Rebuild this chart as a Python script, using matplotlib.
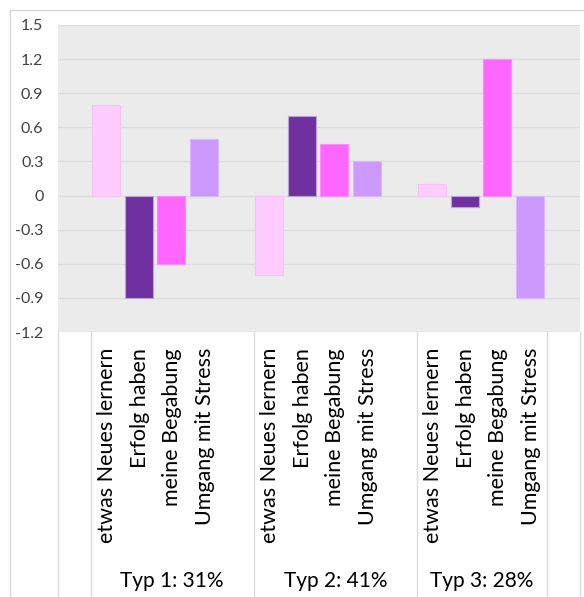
import matplotlib
matplotlib.use("Agg")
import matplotlib.pyplot as plt
from matplotlib.lines import Line2D

groups = ["Typ 1: 31%", "Typ 2: 41%", "Typ 3: 28%"]
items = ["etwas Neues lernern", "Erfolg haben", "meine Begabung", "Umgang mit Stress"]
colors = ["#FFCCFF", "#7030A0", "#FF66FF", "#CC99FF"]
edges = ["#F5C2F5", "#B9A2D4", "#FF8CFF", "#D9B8FF"]
typ1 = [0.8, -0.9, -0.6, 0.5]
typ2 = [-0.7, 0.7, 0.45, 0.3]
typ3 = [0.1, -0.1, 1.2, -0.9]
values = [typ1, typ2, typ3]
yticks = [-1.2, -0.9, -0.6, -0.3, 0, 0.3, 0.6, 0.9, 1.2, 1.5]

# slot layout: empty slot 0, groups start at slots 1, 6, 11; trailing empty slot 15
group_start = [1, 6, 11]
group_span = [(0.5, 5.5), (5.5, 10.5), (10.5, 14.5)]
separators = [-0.5, 0.5, 5.5, 10.5, 14.5, 15.5]

W, H = 584, 597
fig = plt.figure(figsize=(W / 100, H / 100), dpi=100)
fig.patch.set_facecolor("white")
ax = fig.add_axes([58 / W, 1 - 332 / H, (580 - 58) / W, (332 - 25) / H])
ax.set_facecolor("#EBEBEB")
ax.set_xlim(-0.5, 15.5)
ax.set_ylim(-1.2, 1.5)

for g, vals in enumerate(values):
    for k, v in enumerate(vals):
        ax.bar(group_start[g] + k - 0.03, v, width=0.86, color=colors[k],
               edgecolor=edges[k], linewidth=0.8, zorder=3)

ax.set_yticks(yticks)
ax.set_yticklabels([f"{t:g}" for t in yticks], fontsize=11.5, color="#404040",
                   family="Lato")
ax.tick_params(axis="y", length=0, pad=10.5)
ax.tick_params(axis="x", length=0, labelbottom=False)
ax.grid(axis="y", color="#DCDCDC", linewidth=1.0, zorder=0)
for s in ax.spines.values():
    s.set_visible(False)

xtr = ax.get_xaxis_transform()
ybot = -(597 - 332) / (332 - 25)
for x in separators:
    ax.add_line(Line2D([x, x], [0, ybot], transform=xtr, color="#DADADA",
                       linewidth=1.0, clip_on=False))

ylab = -(348 - 332) / (332 - 25)
ygrp = -(581 - 332) / (332 - 25)
for g in range(3):
    for k, name in enumerate(items):
        ax.text(group_start[g] + k, ylab, name, transform=xtr, rotation=90,
                ha="center", va="top", fontsize=15.5, family="Lato",
                color="#000000")
    a, b = group_span[g]
    ax.text((a + b) / 2, ygrp, groups[g], transform=xtr, ha="center",
            va="center", fontsize=15, family="Lato", color="#000000")

# chart outer border (left and top)
fig.add_artist(Line2D([10 / W, 10 / W], [0, 1 - 9.5 / H], transform=fig.transFigure,
                      color="#D9D9D9", linewidth=1.0))
fig.add_artist(Line2D([10 / W, 1], [1 - 9.5 / H, 1 - 9.5 / H], transform=fig.transFigure,
                      color="#D9D9D9", linewidth=1.0))

fig.savefig("out.png", dpi=100, facecolor="white")
